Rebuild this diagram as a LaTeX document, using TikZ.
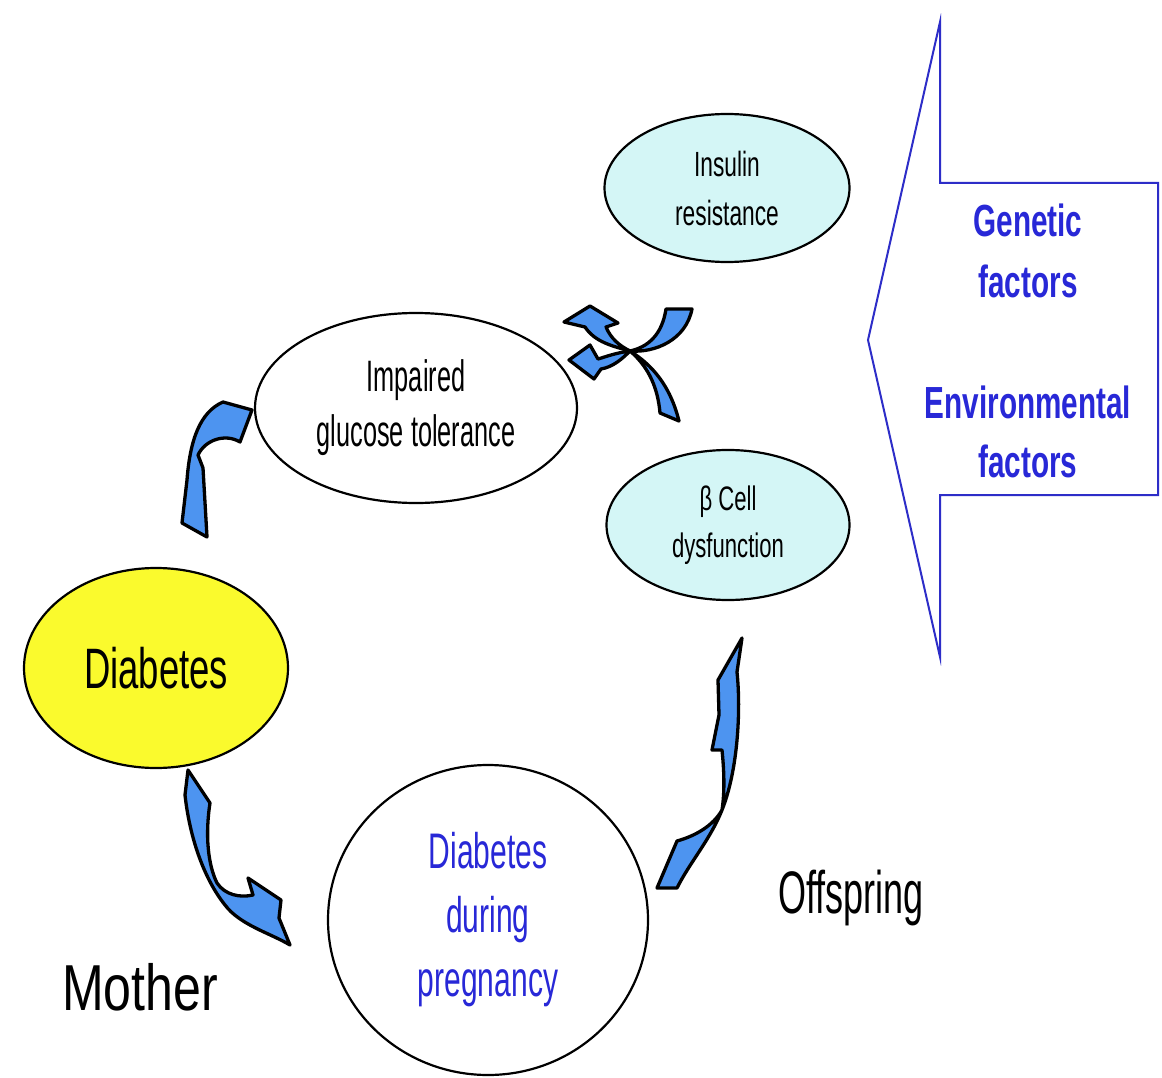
\documentclass[tikz,border=0pt]{standalone}
\usepackage{fontspec}
\setmainfont{Liberation Sans}
\newfontfamily\fsa[FakeStretch=0.65]{Liberation Sans}
\newfontfamily\fsb[FakeStretch=0.575]{Liberation Sans}
\newfontfamily\fsc[FakeStretch=0.64]{Liberation Sans}
\newfontfamily\fsp[FakeStretch=0.60]{Liberation Sans}
\newfontfamily\fsm[FakeStretch=0.77]{Liberation Sans}
\newfontfamily\fso[FakeStretch=0.60]{Liberation Sans}
\newfontfamily\fsg[FakeStretch=0.66]{Liberation Sans}
\usetikzlibrary{shapes.geometric}
\definecolor{cyanfill}{RGB}{212,246,246}
\definecolor{yelfill}{RGB}{250,250,45}
\definecolor{ribbon}{RGB}{77,148,240}
\definecolor{txtblue}{RGB}{40,40,215}
\definecolor{arrblue}{RGB}{45,45,200}
\tikzset{
  oval/.style={ellipse, draw=black, line width=2.2pt, inner sep=0pt, align=center},
  ribbonarrow/.style={fill=ribbon, draw=black, line width=3.3pt, line join=round},
  bigarrow/.style={draw=arrblue, line width=2pt, fill=white, line join=miter},
}
\begin{document}
\begin{tikzpicture}[x=1pt,y=-1pt]
\useasboundingbox[fill=white] (0,0) rectangle (1162,1078);

% big arrow with factors
\draw[bigarrow] (868,340) -- (940,22) -- (940,183) -- (1158,183) -- (1158,495) -- (940,495) -- (940,657) -- cycle;
\node[text=txtblue, align=center, font={\fsg\bfseries\fontsize{45}{61}\selectfont}] (gen) at (1028,251) {Genetic\\factors};
\node[text=txtblue, align=center, font={\fsg\bfseries\fontsize{45}{59}\selectfont}] (env) at (1028,432) {Environmental\\factors};

% ellipses
\node[oval, fill=cyanfill, minimum width=245pt, minimum height=148pt, font={\fsa\fontsize{35}{49}\selectfont}] (ins) at (727,188) {Insulin\\resistance};
\node[oval, fill=white, minimum width=322pt, minimum height=190pt, font={\fsb\fontsize{44}{55}\selectfont}] (igt) at (416,408) {Impaired\\glucose tolerance};
\node[oval, fill=cyanfill, minimum width=243pt, minimum height=150pt, font={\fsa\fontsize{34}{47}\selectfont}] (beta) at (728,525) {β Cell\\dysfunction};
\node[oval, fill=yelfill, minimum width=264pt, minimum height=200pt, font={\fsc\fontsize{57}{60}\selectfont}] (diab) at (156,668) {Diabetes};
\node[oval, fill=white, minimum width=320pt, minimum height=310pt, text=txtblue, font={\fsp\fontsize{50}{64}\selectfont}] (preg) at (488,920) {Diabetes\\during\\pregnancy};

% labels
\node[anchor=base, font={\fsm\fontsize{65}{70}\selectfont}, inner sep=0pt] (mother) at (140,1010) {Mother};
\node[anchor=base, font={\fso\fontsize{60}{66}\selectfont}, inner sep=0pt] (offs) at (851,913) {Offspring};

% ribbon arrows
% A: IGT -> Diabetes
\draw[ribbonarrow] (182,523) -- (187,480) .. controls (190,440) and (200,412) .. (223,402) -- (252,410) -- (240,442) .. controls (225,433) and (205,440) .. (198,455) -- (203,468) -- (207,537) -- cycle;
% B: Diabetes -> pregnancy
\draw[ribbonarrow] (188,770) -- (210,803) .. controls (205,835) and (208,865) .. (217,883) .. controls (225,895) and (240,898) .. (253,895) -- (248,878) -- (281,900) -- (279,918) -- (290,945) .. controls (270,933) and (240,925) .. (225,905) .. controls (205,880) and (190,840) .. (185,795) -- cycle;
% C: pregnancy -> beta cell
\draw[ribbonarrow] (657,888) -- (677,841) .. controls (695,836) and (713,826) .. (722,810) .. controls (725,790) and (724,770) .. (722,750) -- (712,750) -- (719,715) -- (718,680) -- (742,638) -- (737,672) .. controls (741,710) and (738,770) .. (722,810) .. controls (710,840) and (690,862) .. (677,888) -- cycle;
% D2: beta cell -> IGT (upper head)
\draw[ribbonarrow] (660,413) .. controls (658,390) and (650,368) .. (630,351) .. controls (612,346) and (595,342) .. (585,327) -- (564,322) -- (590,306) -- (618,323) -- (606,327) .. controls (611,339) and (620,346) .. (630,351) .. controls (652,365) and (670,385) .. (679,421) -- cycle;
% D1: insulin resistance -> IGT (lower head)
\draw[ribbonarrow] (666,309) .. controls (662,335) and (648,347) .. (630,351) .. controls (615,353) and (605,357) .. (598,359) -- (590,345) -- (569,360) -- (594,379) -- (601,369) .. controls (613,367) and (622,359) .. (630,351) .. controls (655,353) and (686,340) .. (692,309) -- cycle;
\end{tikzpicture}
\end{document}
